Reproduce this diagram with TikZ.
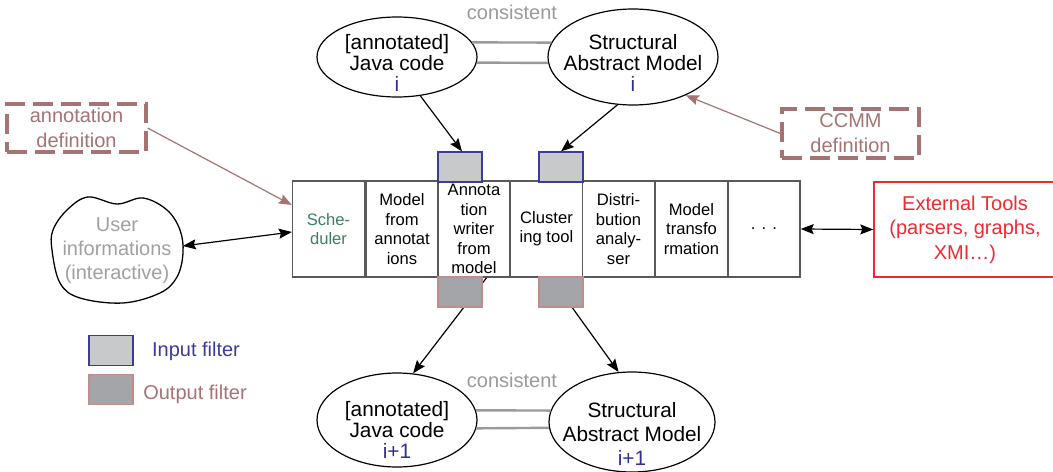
\documentclass[tikz,border=0pt]{standalone}
\usepackage{fontspec}
\setmainfont{Liberation Sans}
\usepackage{xcolor}
\usetikzlibrary{shapes.geometric,arrows.meta,backgrounds}

\definecolor{boxline}{HTML}{595959}
\definecolor{inblue}{HTML}{3B3B9B}
\definecolor{ingray}{HTML}{C8C9CB}
\definecolor{outpink}{HTML}{C08C8C}
\definecolor{outgray}{HTML}{A4A5A8}
\definecolor{defbrown}{HTML}{A57373}
\definecolor{extred}{HTML}{EE2A2F}
\definecolor{schgreen}{HTML}{3E7E5E}
\definecolor{idxblue}{HTML}{2E3192}
\definecolor{consgray}{HTML}{9A9A9A}
\definecolor{usergray}{HTML}{A0A0A0}

\begin{document}
\begin{tikzpicture}[x=0.5pt,y=-0.5pt,
    tool/.style={draw=boxline, line width=0.65pt, minimum width=36pt, minimum height=48pt,
      inner sep=0pt, align=center, font=\fontsize{8.3}{9.7}\selectfont},
    infilt/.style={draw=inblue, fill=ingray, line width=0.6pt, minimum width=22pt,
      minimum height=15pt, inner sep=0pt},
    outfilt/.style={draw=outpink, fill=outgray, line width=0.6pt, minimum width=22pt,
      minimum height=15pt, inner sep=0pt},
    model/.style={ellipse, draw, line width=0.6pt, inner sep=0pt},
    modeltext/.style={align=center, inner sep=0pt},
    defbox/.style={draw=defbrown, dash pattern=on 10pt off 4pt, line width=1.6pt,
      align=center, text=defbrown, inner sep=0pt, font=\fontsize{10}{12.5}\selectfont},
    flow/.style={-{Stealth[length=6.5pt,width=5pt,inset=1pt]}, line width=0.6pt},
    both/.style={{Stealth[length=6.5pt,width=5pt,inset=1pt]}-{Stealth[length=6.5pt,width=5pt,inset=1pt]}, line width=0.6pt},
    defflow/.style={-{Stealth[length=6.5pt,width=5pt,inset=1pt]}, draw=defbrown, line width=0.6pt},
    consline/.style={draw=consgray, line width=1.2pt},
    constext/.style={text=consgray, font=\fontsize{10}{12}\selectfont},
    legtext/.style={font=\fontsize{10}{12}\selectfont}]
  \useasboundingbox (0,0) rectangle (1053,471);

  % Tool chain
  \node[tool, text=schgreen] (sched) at (328.5,229) {Sche-\\duler};
  \node[tool] (mfa) at (402,229) {Model\\from\\annotat\\ions};
  \node[tool] (awrite) at (474,229) {Annota\\tion\\writer\\from\\model};
  \node[tool] (clus) at (546.5,229) {Cluster\\ing tool};
  \node[tool] (dist) at (618.5,229) {Distri-\\bution\\analy-\\ser};
  \node[tool] (mtrans) at (691.5,229) {Model\\transfo\\rmation};
  \node[tool] (dots) at (764,229) {. . .};

  % Filters
  \node[infilt] (inA) at (460,167) {};
  \node[infilt] (inB) at (561,167) {};
  \node[outfilt] (outA) at (460,292) {};
  \node[outfilt] (outB) at (561,292) {};

  % Models i
  \node[model, minimum width=80pt, minimum height=40pt] (java1) at (397,57) {};
  \node[modeltext, font=\fontsize{10.4}{10.3}\selectfont] (java1txt) at (397,63)
    {[annotated]\\Java code\\\textcolor{idxblue}{i}};
  \node[model, minimum width=85pt, minimum height=48pt] (sam1) at (633,57) {};
  \node[modeltext, font=\fontsize{10.4}{10.3}\selectfont] (sam1txt) at (633,63)
    {Structural\\Abstract Model\\\textcolor{idxblue}{i}};
  \node[constext] (cons1) at (512,12) {consistent};
  \draw[consline] (java1.11) -- (sam1.170);
  \draw[consline] (java1.-4) -- (sam1.184);

  % Models i+1
  \node[model, minimum width=80pt, minimum height=47pt] (java2) at (397,420) {};
  \node[modeltext, font=\fontsize{10.4}{10.5}\selectfont] (java2txt) at (397,430)
    {[annotated]\\Java code\\\textcolor{idxblue}{i+1}};
  \node[model, minimum width=83pt, minimum height=50pt] (sam2) at (632,422) {};
  \node[modeltext, font=\fontsize{10.4}{12}\selectfont] (sam2txt) at (632,434)
    {Structural\\Abstract Model\\\textcolor{idxblue}{i+1}};
  \node[constext] (cons2) at (512,380) {consistent};
  \draw[consline] (java2.7) -- (sam2.172);
  \draw[consline] (java2.-6) -- (sam2.184);

  % Definitions
  \node[defbox, minimum width=69.5pt, minimum height=24pt] (anndef) at (76.5,128)
    {annotation\\definition};
  \node[defbox, minimum width=68.5pt, minimum height=24.5pt] (ccmm) at (850.5,133.5)
    {CCMM\\definition};

  % User and external tools
  \node[align=center, text=usergray, inner xsep=5.5pt, font=\fontsize{10}{12}\selectfont]
    (user) at (117,251) {User\\informations\\(interactive)};
  \begin{scope}[shift={(user.center)}]
    \draw[line width=0.65pt] plot[smooth cycle, tension=0.6] coordinates {(-29,-54) (0,-47)
      (26,-53) (50,-41) (63,-21) (66,2) (60,26) (43,42) (6,52) (-37,47) (-57,32)
      (-65,-1) (-64,-21) (-50,-41)};
  \end{scope}
  \node[draw=extred, line width=0.7pt, text=extred, align=center, minimum width=91pt,
    minimum height=47.5pt, inner sep=0pt, font=\fontsize{10}{12.2}\selectfont]
    (ext) at (965,229.5) {External Tools\\(parsers, graphs,\\XMI…)};

  % Legend
  \node[infilt] (legin) at (111,350.5) {};
  \node[outfilt] (legout) at (111,389.5) {};
  \node[legtext, text=inblue] (legintxt) at (196,351) {Input filter};
  \node[legtext, text=defbrown] (legouttxt) at (195,394) {Output filter};

  % Connectors
  \draw[flow] (java1.-59) -- ([xshift=1pt]inA.north);
  \draw[flow] (sam1.252) -- (inB.north);
  \begin{scope}[on background layer]
    \draw[flow] ([xshift=2.5pt]outA.north east) -- (java2.71);
    \draw[flow] (outB.center) -- (sam2.105);
  \end{scope}
  \draw[defflow] (anndef.east) -- ([yshift=12pt]sched.west);
  \draw[defflow] (ccmm.west) -- (sam1.-36);
  \draw[both] ([yshift=2.5pt]user.east) -- ([yshift=-1.5pt]sched.west);
  \draw[both] (dots.east) -- (ext.west);
\end{tikzpicture}
\end{document}
